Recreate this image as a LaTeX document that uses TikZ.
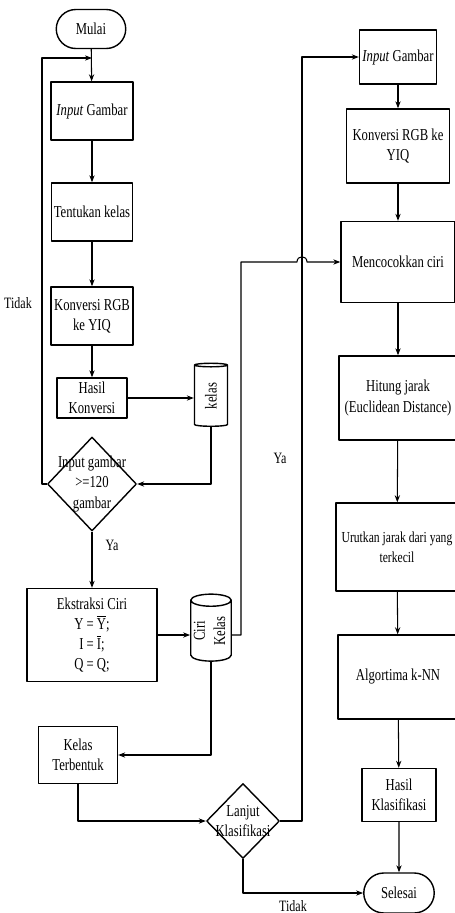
\documentclass[tikz,border=0pt]{standalone}
\usepackage{fontspec}
\setmainfont{Liberation Serif}[FakeStretch=0.76]
\usetikzlibrary{shapes.geometric,shapes.misc,arrows.meta}

\begin{document}
\begin{tikzpicture}[x=0.02cm, y=-0.02cm, line join=round, >={Stealth[length=4pt,width=3pt]}, font=\fontsize{9.5}{11.5}\selectfont]
	\tikzset{box/.style={draw, line width=0.8pt, align=center, inner sep=1pt},
		term/.style={draw, rounded rectangle, line width=0.8pt, inner sep=1pt},
		decision/.style={draw, diamond, line width=0.8pt, inner sep=0pt},
		store/.style={draw, cylinder, shape border rotate=90, aspect=0.3, line width=0.8pt, inner sep=0pt},
		line/.style={semithick},
		label style/.style={font=\fontsize{9}{10}\selectfont}}
	\useasboundingbox (0,0) rectangle (455,913);
	\clip (0,0) rectangle (455,913);
	% left column: building the classes
	\node[term, minimum width=1.46cm, minimum height=0.78cm] (mulai) at (91,29) {Mulai};
	\node[box, minimum width=1.64cm, minimum height=1.16cm] (in1) at (92,111) {\textit{Input} Gambar};
	\node[box, minimum width=1.62cm, minimum height=1.16cm] (tentukan) at (92,212) {Tentukan kelas};
	\node[box, minimum width=1.64cm, minimum height=1.16cm] (rgb1) at (92,316) {Konversi RGB\\ke YIQ};
	\node[box, minimum width=1.40cm, minimum height=0.80cm] (hasil1) at (92,398) {Hasil\\Konversi};
	\node[store, minimum height=1.26cm, minimum width=0.66cm] (kls) at (211,396) {\rotatebox{90}{kelas}};
	\node[decision, minimum width=1.78cm, minimum height=1.88cm,
		label={[align=center]center:Input gambar\\>=120\\gambar}] (dec1) at (92,484) {};
	\node[box, minimum width=2.60cm, minimum height=1.86cm] (ekstr) at (92,635)
		{Ekstraksi Ciri\\Y = $\overline{\mbox{Y}}$;\\I = $\overline{\mbox{I}}$;\\Q = Q;};
	\node[store, minimum height=1.34cm, minimum width=0.66cm] (ciri) at (211,631)
		{\rotatebox{90}{\begin{tabular}{@{}c@{}}Ciri\\Kelas\end{tabular}}};
	\node[box, minimum width=1.58cm, minimum height=1.14cm] (terb) at (78,755) {Kelas\\Terbentuk};
	\node[decision, minimum width=1.46cm, minimum height=1.50cm,
		label={[align=center]center:Lanjut\\Klasifikasi}] (lanjut) at (243,821) {};
	% right column: classification
	\node[box, minimum width=1.54cm, minimum height=1.08cm] (in2) at (398,57) {\textit{Input} Gambar};
	\node[box, minimum width=2.06cm, minimum height=1.48cm] (rgb2) at (398,146) {Konversi RGB ke\\YIQ};
	\node[box, minimum width=2.28cm, minimum height=1.62cm] (cocok) at (398,262) {Mencocokkan ciri};
	\node[box, minimum width=2.36cm, minimum height=1.68cm] (jarak) at (398,398) {Hitung jarak\\(Euclidean Distance)};
	\node[box, minimum width=2.44cm, minimum height=1.76cm, font=\fontsize{8.7}{11.5}\selectfont] (urut) at (397,547) {Urutkan jarak dari yang\\terkecil};
	\node[box, minimum width=2.40cm, minimum height=1.68cm] (knn) at (398,677) {Algortima k-NN};
	\node[box, minimum width=1.48cm, minimum height=1.06cm] (hasil2) at (399,795) {Hasil\\Klasifikasi};
	\node[term, minimum width=1.48cm, minimum height=0.80cm] (selesai) at (399,893) {Selesai};
	\coordinate (j1) at (92,58);
	% connectors
	\draw[line,->] (mulai) -- (in1);
	\draw[line,->] (in1) -- (tentukan);
	\draw[line,->] (tentukan) -- (rgb1);
	\draw[line,->] (rgb1) -- (hasil1);
	\draw[line,->] (hasil1.east) -- (hasil1.east -| kls.west);
	\draw[line,->] (kls.south) |- (dec1.east);
	\draw[line,->] (dec1.west) -| (42,58) -- (j1);
	\draw[line,->] (dec1) -- (ekstr);
	\draw[line,->] (ekstr.east) -- (ekstr.east -| ciri.west);
	\draw[line,->] (ekstr.east -| ciri.east) -| (241,262) -- (297,262) .. controls (297,255) and (307,255) .. (307,262) -- (cocok.west);
	\draw[line,->] (ciri.south) |- (terb.east);
	\draw[line,->] (terb.south) |- (lanjut.west);
	\draw[line,->] (lanjut.east) -| (302,57) -- (in2.west);
	\draw[line,->] (lanjut.south) |- (selesai.west);
	\foreach \a/\b in {in2/rgb2, rgb2/cocok, cocok/jarak, jarak/urut, urut/knn, knn/hasil2, hasil2/selesai}
		\draw[line,->] (\a) -- (\b);
	% branch labels
	\node[label style] (tidak1) at (18,303) {Tidak};
	\node[label style] (ya1) at (112,545) {Ya};
	\node[label style] (ya2) at (280,458) {Ya};
	\node[label style] (tidak2) at (293,906) {Tidak};
\end{tikzpicture}
\end{document}
